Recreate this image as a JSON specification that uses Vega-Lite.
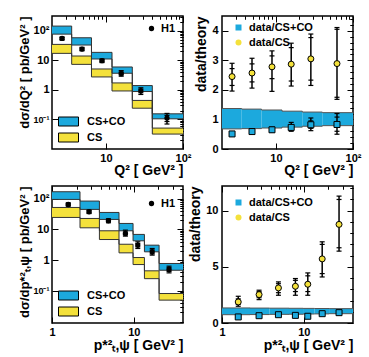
{
"$schema":"https://vega.github.io/schema/vega-lite/v6.json",
"background":"#ffffff",
"padding":{"left":18,"top":14,"right":0,"bottom":0},
"config":{
 "font":"Liberation Sans",
 "view":{"stroke":"#000","strokeWidth":1.5},
 "axis":{"domain":false,"grid":false,"tickColor":"#000","tickWidth":1,"labelFont":"Liberation Sans","labelFontSize":11,"labelFontWeight":"bold","labelColor":"#000","titleFont":"Liberation Sans","titleFontSize":14,"titleFontWeight":"bold","titleColor":"#000","labelFlush":false,"labelOverlap":false},
 "legend":{"labelFont":"Liberation Sans","labelFontSize":11,"labelFontWeight":"bold","labelColor":"#000"}
},
"datasets":{
 "tl_b":[
  {"b":1,"lo":2,"hi":3.6,"model":"CS+CO","ylo":77,"yhi":144},
  {"b":2,"lo":3.6,"hi":6.5,"model":"CS+CO","ylo":32.9,"yhi":58},
  {"b":3,"lo":6.5,"hi":12,"model":"CS+CO","ylo":11.1,"yhi":18.6},
  {"b":4,"lo":12,"hi":22,"model":"CS+CO","ylo":3.65,"yhi":5.96},
  {"b":5,"lo":22,"hi":40,"model":"CS+CO","ylo":0.88,"yhi":1.4},
  {"b":6,"lo":40,"hi":100,"model":"CS+CO","ylo":0.105,"yhi":0.155},
  {"b":1,"lo":2,"hi":3.6,"model":"CS","ylo":17.2,"yhi":34.6},
  {"b":2,"lo":3.6,"hi":6.5,"model":"CS","ylo":7.3,"yhi":14},
  {"b":3,"lo":6.5,"hi":12,"model":"CS","ylo":2.74,"yhi":5.1},
  {"b":4,"lo":12,"hi":22,"model":"CS","ylo":0.92,"yhi":1.72},
  {"b":5,"lo":22,"hi":40,"model":"CS","ylo":0.24,"yhi":0.44},
  {"b":6,"lo":40,"hi":100,"model":"CS","ylo":0.032,"yhi":0.051}
 ],
 "tl_h1":[
  {"x":2.7,"v":55,"elo":48,"ehi":62,"slo":51,"shi":59},
  {"x":4.9,"v":24,"elo":21,"ehi":27.5,"slo":22.3,"shi":25.8},
  {"x":8.9,"v":9.7,"elo":8.4,"ehi":11.1,"slo":9,"shi":10.4},
  {"x":15.8,"v":3.6,"elo":2.9,"ehi":4.5,"slo":3.2,"shi":4.0},
  {"x":28.4,"v":0.93,"elo":0.7,"ehi":1.18,"slo":0.8,"shi":1.06},
  {"x":62,"v":0.111,"elo":0.07,"ehi":0.16,"slo":0.085,"shi":0.137}
 ],
 "tr_band":[
  {"b":1,"lo":2,"hi":3.6,"ylo":0.68,"yhi":1.37},
  {"b":2,"lo":3.6,"hi":6.5,"ylo":0.69,"yhi":1.35},
  {"b":3,"lo":6.5,"hi":12,"ylo":0.71,"yhi":1.32},
  {"b":4,"lo":12,"hi":22,"ylo":0.74,"yhi":1.28},
  {"b":5,"lo":22,"hi":40,"ylo":0.77,"yhi":1.25},
  {"b":6,"lo":40,"hi":100,"ylo":0.79,"yhi":1.23}
 ],
 "tr_pts":[
  {"x":2.7,"series":"data/CS+CO","v":0.51,"elo":0.45,"ehi":0.58,"slo":0.47,"shi":0.55},
  {"x":4.9,"series":"data/CS+CO","v":0.59,"elo":0.52,"ehi":0.67,"slo":0.55,"shi":0.63},
  {"x":8.9,"series":"data/CS+CO","v":0.65,"elo":0.57,"ehi":0.74,"slo":0.6,"shi":0.7},
  {"x":15.8,"series":"data/CS+CO","v":0.73,"elo":0.6,"ehi":0.9,"slo":0.66,"shi":0.81},
  {"x":28.4,"series":"data/CS+CO","v":0.82,"elo":0.62,"ehi":1.05,"slo":0.7,"shi":0.95},
  {"x":62,"series":"data/CS+CO","v":0.83,"elo":0.5,"ehi":1.2,"slo":0.6,"shi":1.08},
  {"x":2.7,"series":"data/CS","v":2.45,"elo":1.96,"ehi":2.9,"slo":2.15,"shi":2.72},
  {"x":4.9,"series":"data/CS","v":2.57,"elo":2.06,"ehi":3.07,"slo":2.27,"shi":2.88},
  {"x":8.9,"series":"data/CS","v":2.78,"elo":1.95,"ehi":3.32,"slo":2.38,"shi":3.15},
  {"x":15.8,"series":"data/CS","v":2.87,"elo":2.13,"ehi":3.58,"slo":2.3,"shi":3.43},
  {"x":28.4,"series":"data/CS","v":3.05,"elo":2.15,"ehi":3.89,"slo":2.33,"shi":3.77},
  {"x":62,"series":"data/CS","v":2.89,"elo":1.68,"ehi":4.11,"slo":1.75,"shi":4.05}
 ],
 "bl_b":[
  {"b":1,"lo":1,"hi":2.2,"model":"CS+CO","ylo":95,"yhi":169},
  {"b":2,"lo":2.2,"hi":3.8,"model":"CS+CO","ylo":45,"yhi":84},
  {"b":3,"lo":3.8,"hi":6.6,"model":"CS+CO","ylo":21.2,"yhi":35.8},
  {"b":4,"lo":6.6,"hi":9.8,"model":"CS+CO","ylo":9.05,"yhi":15.7},
  {"b":5,"lo":9.8,"hi":13.5,"model":"CS+CO","ylo":4.27,"yhi":6.9},
  {"b":6,"lo":13.5,"hi":20.4,"model":"CS+CO","ylo":1.87,"yhi":3.08},
  {"b":7,"lo":20.4,"hi":40,"model":"CS+CO","ylo":0.47,"yhi":0.78},
  {"b":1,"lo":1,"hi":2.2,"model":"CS","ylo":24.6,"yhi":52},
  {"b":2,"lo":2.2,"hi":3.8,"model":"CS","ylo":11.3,"yhi":22.8},
  {"b":3,"lo":3.8,"hi":6.6,"model":"CS","ylo":4.7,"yhi":9.05},
  {"b":4,"lo":6.6,"hi":9.8,"model":"CS","ylo":1.73,"yhi":3.3},
  {"b":5,"lo":9.8,"hi":13.5,"model":"CS","ylo":0.72,"yhi":1.22},
  {"b":6,"lo":13.5,"hi":20.4,"model":"CS","ylo":0.25,"yhi":0.45},
  {"b":7,"lo":20.4,"hi":40,"model":"CS","ylo":0.05,"yhi":0.082}
 ],
 "bl_h1":[
  {"x":1.58,"v":65,"elo":57,"ehi":74,"slo":61,"shi":69},
  {"x":2.84,"v":37.7,"elo":33,"ehi":43,"slo":35,"shi":40.5},
  {"x":4.9,"v":19.2,"elo":16.5,"ehi":22.3,"slo":17.8,"shi":20.7},
  {"x":7.9,"v":7.4,"elo":6.07,"ehi":9.5,"slo":6.7,"shi":8.3},
  {"x":11.2,"v":3.1,"elo":2.4,"ehi":3.96,"slo":2.7,"shi":3.5},
  {"x":16.8,"v":1.87,"elo":1.46,"ehi":2.4,"slo":1.6,"shi":2.15},
  {"x":27,"v":0.5,"elo":0.386,"ehi":0.637,"slo":0.43,"shi":0.57}
 ],
 "br_band":[
  {"b":1,"lo":1,"hi":2.2,"ylo":0.74,"yhi":1.34},
  {"b":2,"lo":2.2,"hi":3.8,"ylo":0.75,"yhi":1.33},
  {"b":3,"lo":3.8,"hi":6.6,"ylo":0.77,"yhi":1.32},
  {"b":4,"lo":6.6,"hi":9.8,"ylo":0.78,"yhi":1.31},
  {"b":5,"lo":9.8,"hi":13.5,"ylo":0.8,"yhi":1.3},
  {"b":6,"lo":13.5,"hi":20.4,"ylo":0.81,"yhi":1.29},
  {"b":7,"lo":20.4,"hi":40,"ylo":0.83,"yhi":1.28}
 ],
 "br_pts":[
  {"x":1.58,"series":"data/CS+CO","v":0.54,"elo":0.46,"ehi":0.62,"slo":0.49,"shi":0.59},
  {"x":2.84,"series":"data/CS+CO","v":0.65,"elo":0.57,"ehi":0.73,"slo":0.6,"shi":0.7},
  {"x":4.9,"series":"data/CS+CO","v":0.74,"elo":0.65,"ehi":0.83,"slo":0.68,"shi":0.8},
  {"x":7.9,"series":"data/CS+CO","v":0.68,"elo":0.58,"ehi":0.78,"slo":0.62,"shi":0.74},
  {"x":11.2,"series":"data/CS+CO","v":0.6,"elo":0.5,"ehi":0.7,"slo":0.54,"shi":0.66},
  {"x":16.8,"series":"data/CS+CO","v":0.83,"elo":0.7,"ehi":0.96,"slo":0.75,"shi":0.91},
  {"x":27,"series":"data/CS+CO","v":0.92,"elo":0.75,"ehi":1.09,"slo":0.81,"shi":1.03},
  {"x":1.58,"series":"data/CS","v":1.875,"elo":1.49,"ehi":2.38,"slo":1.65,"shi":2.15},
  {"x":2.84,"series":"data/CS","v":2.53,"elo":2.08,"ehi":2.92,"slo":2.25,"shi":2.8},
  {"x":4.9,"series":"data/CS","v":3.125,"elo":2.47,"ehi":3.66,"slo":2.7,"shi":3.5},
  {"x":7.9,"series":"data/CS","v":3.27,"elo":2.47,"ehi":3.96,"slo":2.8,"shi":3.8},
  {"x":11.2,"series":"data/CS","v":3.45,"elo":2.47,"ehi":4.46,"slo":2.8,"shi":4.2},
  {"x":16.8,"series":"data/CS","v":5.71,"elo":4.1,"ehi":7.23,"slo":4.4,"shi":7.0},
  {"x":27,"series":"data/CS","v":8.78,"elo":6.4,"ehi":11.3,"slo":6.7,"shi":11.0}
 ]
},
"resolve":{"scale":{"fill":"independent","shape":"independent"},"legend":{"fill":"independent","shape":"independent"}},
"columns":2,
"spacing":{"row":37,"column":39},
"bounds":"flush",
"concat":[
  {"width":131,"height":133,
   "resolve":{"axis":{"x":"independent","y":"independent"}},
   "layer":[
    {"data":{"name":"tl_b"},"mark":{"type":"rect"},
     "encoding":{
      "x":{"field":"lo","type":"quantitative","scale":{"type":"log","domain":[2,100]},"axis":{"values":[10,100],"labelExpr":"datum.value>50?'10²':'10'","tickSize":-6,"labelPadding":9,"title":"Q² [ GeV² ]","titleAnchor":"end","titlePadding":0}},
      "x2":{"field":"hi"},
      "y":{"field":"ylo","type":"quantitative","scale":{"type":"log","domain":[0.01,316]},"axis":{"values":[0.1,1,10,100],"labelExpr":"datum.value>50?'10²':datum.value>5?'10':datum.value>0.5?'1':'10⁻¹'","labelFontSize":{"condition":{"test":"datum.value<0.5","value":9},"value":11},"tickSize":-6,"labelPadding":9,"title":"dσ/dQ² [ pb/GeV² ]","titleAnchor":"end","titlePadding":1,"titleFontSize":13}},
      "y2":{"field":"yhi"},
      "fill":{"field":"model","type":"nominal","scale":{"domain":["CS+CO","CS"],"range":["#1ca9dd","#f4e13b"]},"legend":{"orient":"none","legendX":11,"legendY":100,"title":null,"symbolType":"M-2,-0.9L2,-0.9L2,0.9L-2,0.9Z","symbolSize":100,"symbolStrokeColor":"#000","symbolStrokeWidth":1,"labelOffset":13,"rowPadding":3,"padding":0}}
     }},
    {"data":{"name":"tl_b"},"transform":[{"fold":["ylo","yhi"],"as":["edge","yv"]},{"fold":["lo","hi"],"as":["side","xv"]}],
     "mark":{"type":"line","color":"#333","strokeWidth":1},
     "encoding":{
      "x":{"field":"xv","type":"quantitative","scale":{"type":"log","domain":[2,100]},"axis":{"values":[3,4,5,6,7,8,9,20,30,40,50,60,70,80,90],"labels":false,"tickSize":-3,"title":null}},
      "y":{"field":"yv","type":"quantitative","scale":{"type":"log","domain":[0.01,316]},"axis":{"values":[0.02,0.03,0.04,0.05,0.06,0.07,0.08,0.09,0.2,0.3,0.4,0.5,0.6,0.7,0.8,0.9,2,3,4,5,6,7,8,9,20,30,40,50,60,70,80,90,200,300],"labels":false,"tickSize":-3,"title":null}},
      "detail":[{"field":"model"},{"field":"edge"}],
      "order":[{"field":"xv","type":"quantitative"},{"field":"b","type":"quantitative"}]
     }},
    {"data":{"name":"tl_h1"},"mark":{"type":"rule","color":"#000","strokeWidth":1.5},
     "encoding":{
      "x":{"field":"x","type":"quantitative","scale":{"type":"log","domain":[2,100]},"axis":{"orient":"top","values":[10,100],"labels":false,"tickSize":-6,"title":null}},
      "y":{"field":"elo","type":"quantitative","scale":{"type":"log","domain":[0.01,316]},"axis":{"orient":"right","values":[0.1,1,10,100],"labels":false,"tickSize":-6,"title":null}},
      "y2":{"field":"ehi"}
     }},
    {"data":{"name":"tl_h1"},"transform":[{"fold":["elo","ehi","slo","shi"],"as":["k","ev"]}],
     "mark":{"type":"tick","orient":"horizontal","color":"#000","size":5,"thickness":1.2,"opacity":1},
     "encoding":{
      "x":{"field":"x","type":"quantitative","scale":{"type":"log","domain":[2,100]},"axis":{"orient":"top","values":[3,4,5,6,7,8,9,20,30,40,50,60,70,80,90],"labels":false,"tickSize":-3,"title":null}},
      "y":{"field":"ev","type":"quantitative","scale":{"type":"log","domain":[0.01,316]},"axis":{"orient":"right","values":[0.02,0.03,0.04,0.05,0.06,0.07,0.08,0.09,0.2,0.3,0.4,0.5,0.6,0.7,0.8,0.9,2,3,4,5,6,7,8,9,20,30,40,50,60,70,80,90,200,300],"labels":false,"tickSize":-3,"title":null}}
     }},
    {"data":{"name":"tl_h1"},"mark":{"type":"point","filled":true,"color":"#000","size":28,"opacity":1},
     "encoding":{
      "x":{"field":"x","type":"quantitative","scale":{"type":"log","domain":[2,100]},"axis":null},
      "y":{"field":"v","type":"quantitative","scale":{"type":"log","domain":[0.01,316]},"axis":null},
      "shape":{"datum":"H1","scale":{"domain":["H1"],"range":["circle"]},"legend":{"orient":"none","legendX":94,"legendY":7,"title":null,"symbolFillColor":"#000","symbolStrokeColor":"#000","symbolSize":28,"labelOffset":4,"padding":0}}
     }}
   ]},
  {"width":131,"height":133,
   "resolve":{"axis":{"x":"independent","y":"independent"}},
   "layer":[
    {"data":{"name":"tr_band"},"mark":{"type":"rect","color":"#1ca9dd"},
     "encoding":{
      "x":{"field":"lo","type":"quantitative","scale":{"type":"log","domain":[2,100]},"axis":{"values":[10,100],"labelExpr":"datum.value>50?'10²':'10'","tickSize":-6,"labelPadding":9,"title":"Q² [ GeV² ]","titleAnchor":"end","titlePadding":0}},
      "x2":{"field":"hi"},
      "y":{"field":"ylo","type":"quantitative","scale":{"domain":[0,4.5]},"axis":{"values":[0,1,2,3,4],"tickSize":-6,"labelPadding":10,"title":"data/theory","titleAnchor":"end","titlePadding":3}},
      "y2":{"field":"yhi"}
     }},
    {"data":{"name":"tr_band"},"transform":[{"fold":["ylo","yhi"],"as":["edge","yv"]},{"fold":["lo","hi"],"as":["side","xv"]}],
     "mark":{"type":"line","color":"#555","strokeWidth":1},
     "encoding":{
      "x":{"field":"xv","type":"quantitative","scale":{"type":"log","domain":[2,100]},"axis":{"values":[3,4,5,6,7,8,9,20,30,40,50,60,70,80,90],"labels":false,"tickSize":-3,"title":null}},
      "y":{"field":"yv","type":"quantitative","scale":{"domain":[0,4.5]},"axis":{"values":[0.2,0.4,0.6,0.8,1.2,1.4,1.6,1.8,2.2,2.4,2.6,2.8,3.2,3.4,3.6,3.8,4.2,4.4],"labels":false,"tickSize":-3,"title":null}},
      "detail":{"field":"edge"},
      "order":[{"field":"xv","type":"quantitative"},{"field":"b","type":"quantitative"}]
     }},
    {"data":{"name":"tr_pts"},"mark":{"type":"rule","color":"#000","strokeWidth":1.5},
     "encoding":{
      "x":{"field":"x","type":"quantitative","scale":{"type":"log","domain":[2,100]},"axis":{"orient":"top","values":[10,100],"labels":false,"tickSize":-6,"title":null}},
      "y":{"field":"elo","type":"quantitative","scale":{"domain":[0,4.5]},"axis":{"orient":"right","values":[0,1,2,3,4],"labels":false,"tickSize":-6,"title":null}},
      "y2":{"field":"ehi"}
     }},
    {"data":{"name":"tr_pts"},"transform":[{"fold":["elo","ehi","slo","shi"],"as":["k","ev"]}],
     "mark":{"type":"tick","orient":"horizontal","color":"#000","size":5,"thickness":1.2,"opacity":1},
     "encoding":{
      "x":{"field":"x","type":"quantitative","scale":{"type":"log","domain":[2,100]},"axis":{"orient":"top","values":[3,4,5,6,7,8,9,20,30,40,50,60,70,80,90],"labels":false,"tickSize":-3,"title":null}},
      "y":{"field":"ev","type":"quantitative","scale":{"domain":[0,4.5]},"axis":{"orient":"right","values":[0.2,0.4,0.6,0.8,1.2,1.4,1.6,1.8,2.2,2.4,2.6,2.8,3.2,3.4,3.6,3.8,4.2,4.4],"labels":false,"tickSize":-3,"title":null}}
     }},
    {"data":{"name":"tr_pts"},"mark":{"type":"point","filled":true,"stroke":"#000","strokeWidth":1,"size":36,"opacity":1},
     "encoding":{
      "x":{"field":"x","type":"quantitative","scale":{"type":"log","domain":[2,100]},"axis":null},
      "y":{"field":"v","type":"quantitative","scale":{"domain":[0,4.5]},"axis":null},
      "fill":{"field":"series","type":"nominal","scale":{"domain":["data/CS+CO","data/CS"],"range":["#1ca9dd","#f4e13b"]},"legend":{"orient":"none","legendX":11,"legendY":6,"title":null,"symbolStrokeColor":"#000","symbolStrokeWidth":1,"symbolSize":36,"labelOffset":5,"rowPadding":3,"padding":0}},
      "shape":{"field":"series","type":"nominal","scale":{"domain":["data/CS+CO","data/CS"],"range":["square","circle"]},"legend":{"orient":"none","legendX":11,"legendY":6,"title":null,"symbolStrokeColor":"#000","symbolStrokeWidth":1,"symbolSize":36,"labelOffset":5,"rowPadding":3,"padding":0}}
     }}
   ]},
  {"width":131,"height":137,
   "resolve":{"axis":{"x":"independent","y":"independent"}},
   "layer":[
    {"data":{"name":"bl_b"},"mark":{"type":"rect"},
     "encoding":{
      "x":{"field":"lo","type":"quantitative","scale":{"type":"log","domain":[1,40]},"axis":{"values":[1,10],"labelExpr":"datum.value>5?'10':'1'","tickSize":-6,"labelPadding":9,"title":"p*²ₜ,ψ [ GeV² ]","titleAnchor":"end","titlePadding":1}},
      "x2":{"field":"hi"},
      "y":{"field":"ylo","type":"quantitative","scale":{"type":"log","domain":[0.009,260]},"axis":{"values":[0.1,1,10,100],"labelExpr":"datum.value>50?'10²':datum.value>5?'10':datum.value>0.5?'1':'10⁻¹'","labelFontSize":{"condition":{"test":"datum.value<0.5","value":9},"value":11},"tickSize":-6,"labelPadding":9,"title":"dσ/dp*²ₜ,ψ [ pb/GeV² ]","titleAnchor":"end","titlePadding":1,"titleFontSize":13}},
      "y2":{"field":"yhi"},
      "fill":{"field":"model","type":"nominal","scale":{"domain":["CS+CO","CS"],"range":["#1ca9dd","#f4e13b"]},"legend":{"orient":"none","legendX":11,"legendY":104,"title":null,"symbolType":"M-2,-0.9L2,-0.9L2,0.9L-2,0.9Z","symbolSize":100,"symbolStrokeColor":"#000","symbolStrokeWidth":1,"labelOffset":13,"rowPadding":3,"padding":0}}
     }},
    {"data":{"name":"bl_b"},"transform":[{"fold":["ylo","yhi"],"as":["edge","yv"]},{"fold":["lo","hi"],"as":["side","xv"]}],
     "mark":{"type":"line","color":"#333","strokeWidth":1},
     "encoding":{
      "x":{"field":"xv","type":"quantitative","scale":{"type":"log","domain":[1,40]},"axis":{"values":[2,3,4,5,6,7,8,9,20,30],"labels":false,"tickSize":-3,"title":null}},
      "y":{"field":"yv","type":"quantitative","scale":{"type":"log","domain":[0.009,260]},"axis":{"values":[0.01,0.02,0.03,0.04,0.05,0.06,0.07,0.08,0.09,0.2,0.3,0.4,0.5,0.6,0.7,0.8,0.9,2,3,4,5,6,7,8,9,20,30,40,50,60,70,80,90,200],"labels":false,"tickSize":-3,"title":null}},
      "detail":[{"field":"model"},{"field":"edge"}],
      "order":[{"field":"xv","type":"quantitative"},{"field":"b","type":"quantitative"}]
     }},
    {"data":{"name":"bl_h1"},"mark":{"type":"rule","color":"#000","strokeWidth":1.5},
     "encoding":{
      "x":{"field":"x","type":"quantitative","scale":{"type":"log","domain":[1,40]},"axis":{"orient":"top","values":[1,10],"labels":false,"tickSize":-6,"title":null}},
      "y":{"field":"elo","type":"quantitative","scale":{"type":"log","domain":[0.009,260]},"axis":{"orient":"right","values":[0.1,1,10,100],"labels":false,"tickSize":-6,"title":null}},
      "y2":{"field":"ehi"}
     }},
    {"data":{"name":"bl_h1"},"transform":[{"fold":["elo","ehi","slo","shi"],"as":["k","ev"]}],
     "mark":{"type":"tick","orient":"horizontal","color":"#000","size":5,"thickness":1.2,"opacity":1},
     "encoding":{
      "x":{"field":"x","type":"quantitative","scale":{"type":"log","domain":[1,40]},"axis":{"orient":"top","values":[2,3,4,5,6,7,8,9,20,30],"labels":false,"tickSize":-3,"title":null}},
      "y":{"field":"ev","type":"quantitative","scale":{"type":"log","domain":[0.009,260]},"axis":{"orient":"right","values":[0.01,0.02,0.03,0.04,0.05,0.06,0.07,0.08,0.09,0.2,0.3,0.4,0.5,0.6,0.7,0.8,0.9,2,3,4,5,6,7,8,9,20,30,40,50,60,70,80,90,200],"labels":false,"tickSize":-3,"title":null}}
     }},
    {"data":{"name":"bl_h1"},"mark":{"type":"point","filled":true,"color":"#000","size":28,"opacity":1},
     "encoding":{
      "x":{"field":"x","type":"quantitative","scale":{"type":"log","domain":[1,40]},"axis":null},
      "y":{"field":"v","type":"quantitative","scale":{"type":"log","domain":[0.009,260]},"axis":null},
      "shape":{"datum":"H1","scale":{"domain":["H1"],"range":["circle"]},"legend":{"orient":"none","legendX":94,"legendY":12,"title":null,"symbolFillColor":"#000","symbolStrokeColor":"#000","symbolSize":28,"labelOffset":4,"padding":0}}
     }}
   ]},
  {"width":131,"height":137,
   "resolve":{"axis":{"x":"independent","y":"independent"}},
   "layer":[
    {"data":{"name":"br_band"},"mark":{"type":"rect","color":"#1ca9dd"},
     "encoding":{
      "x":{"field":"lo","type":"quantitative","scale":{"type":"log","domain":[1,40]},"axis":{"values":[1,10],"labelExpr":"datum.value>5?'10':'1'","tickSize":-6,"labelPadding":9,"title":"p*²ₜ,ψ [ GeV² ]","titleAnchor":"end","titlePadding":1}},
      "x2":{"field":"hi"},
      "y":{"field":"ylo","type":"quantitative","scale":{"domain":[0,12.2]},"axis":{"values":[0,5,10],"tickSize":-6,"labelPadding":10,"title":"data/theory","titleAnchor":"end","titlePadding":3}},
      "y2":{"field":"yhi"}
     }},
    {"data":{"name":"br_band"},"transform":[{"fold":["ylo","yhi"],"as":["edge","yv"]},{"fold":["lo","hi"],"as":["side","xv"]}],
     "mark":{"type":"line","color":"#555","strokeWidth":1},
     "encoding":{
      "x":{"field":"xv","type":"quantitative","scale":{"type":"log","domain":[1,40]},"axis":{"values":[2,3,4,5,6,7,8,9,20,30],"labels":false,"tickSize":-3,"title":null}},
      "y":{"field":"yv","type":"quantitative","scale":{"domain":[0,12.2]},"axis":{"values":[1,2,3,4,6,7,8,9,11,12],"labels":false,"tickSize":-3,"title":null}},
      "detail":{"field":"edge"},
      "order":[{"field":"xv","type":"quantitative"},{"field":"b","type":"quantitative"}]
     }},
    {"data":{"name":"br_pts"},"mark":{"type":"rule","color":"#000","strokeWidth":1.5},
     "encoding":{
      "x":{"field":"x","type":"quantitative","scale":{"type":"log","domain":[1,40]},"axis":{"orient":"top","values":[1,10],"labels":false,"tickSize":-6,"title":null}},
      "y":{"field":"elo","type":"quantitative","scale":{"domain":[0,12.2]},"axis":{"orient":"right","values":[0,5,10],"labels":false,"tickSize":-6,"title":null}},
      "y2":{"field":"ehi"}
     }},
    {"data":{"name":"br_pts"},"transform":[{"fold":["elo","ehi","slo","shi"],"as":["k","ev"]}],
     "mark":{"type":"tick","orient":"horizontal","color":"#000","size":5,"thickness":1.2,"opacity":1},
     "encoding":{
      "x":{"field":"x","type":"quantitative","scale":{"type":"log","domain":[1,40]},"axis":{"orient":"top","values":[2,3,4,5,6,7,8,9,20,30],"labels":false,"tickSize":-3,"title":null}},
      "y":{"field":"ev","type":"quantitative","scale":{"domain":[0,12.2]},"axis":{"orient":"right","values":[1,2,3,4,6,7,8,9,11,12],"labels":false,"tickSize":-3,"title":null}}
     }},
    {"data":{"name":"br_pts"},"mark":{"type":"point","filled":true,"stroke":"#000","strokeWidth":1,"size":36,"opacity":1},
     "encoding":{
      "x":{"field":"x","type":"quantitative","scale":{"type":"log","domain":[1,40]},"axis":null},
      "y":{"field":"v","type":"quantitative","scale":{"domain":[0,12.2]},"axis":null},
      "fill":{"field":"series","type":"nominal","scale":{"domain":["data/CS+CO","data/CS"],"range":["#1ca9dd","#f4e13b"]},"legend":{"orient":"none","legendX":11,"legendY":11,"title":null,"symbolStrokeColor":"#000","symbolStrokeWidth":1,"symbolSize":36,"labelOffset":5,"rowPadding":3,"padding":0}},
      "shape":{"field":"series","type":"nominal","scale":{"domain":["data/CS+CO","data/CS"],"range":["square","circle"]},"legend":{"orient":"none","legendX":11,"legendY":11,"title":null,"symbolStrokeColor":"#000","symbolStrokeWidth":1,"symbolSize":36,"labelOffset":5,"rowPadding":3,"padding":0}}
     }}
   ]}
]
}
